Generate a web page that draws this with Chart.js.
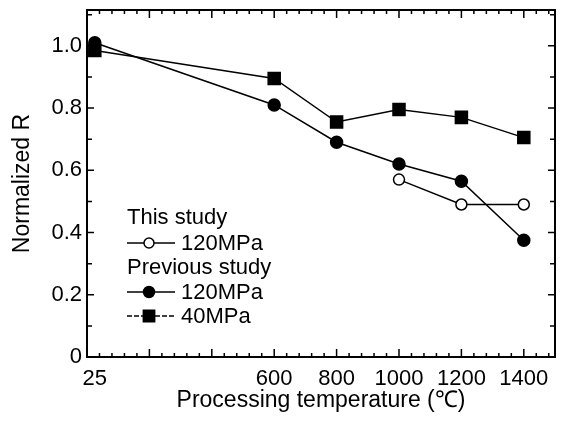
<!DOCTYPE html>
<html>
<head>
<meta charset="utf-8">
<script src="https://cdn.jsdelivr.net/npm/chart.js@4.4.0/dist/chart.umd.min.js"></script>
<style>
  html, body { margin: 0; padding: 0; background: #fff; }
</style>
</head>
<body>
<canvas id="chart" width="565" height="423"></canvas>
<script>
// ===== Data =====
const temps = [25, 600, 800, 1000, 1200, 1400];
const thisStudyTemps = [1000, 1200, 1400];
const thisStudy120 = [0.57, 0.49, 0.49];
const prev120 = [1.01, 0.81, 0.69, 0.62, 0.565, 0.375];
const prev40 = [0.985, 0.895, 0.755, 0.795, 0.77, 0.705];
const xTickLabels = [25, 600, 800, 1000, 1200, 1400];
const yTickLabels = [0, 0.2, 0.4, 0.6, 0.8, 1.0];

const FONT = "'Liberation Sans', Arial, sans-serif";

function pairs(xs, ys){ return xs.map((x,i)=>({x, y: ys[i]})); }

// ===== Frame with inward ticks =====
const framePlugin = {
  id: "frame",
  beforeDatasetsDraw(chart){
    const {ctx, chartArea: a, scales: {x, y}} = chart;
    ctx.save();
    ctx.strokeStyle = "#000";
    ctx.lineWidth = 1.5;
    ctx.beginPath();
    for(let v=40; v<1500; v+=40){
      const px = x.getPixelForValue(v);
      const len = v%200===0 ? 8 : 4;
      ctx.moveTo(px, a.bottom); ctx.lineTo(px, a.bottom-len);
      ctx.moveTo(px, a.top); ctx.lineTo(px, a.top+len);
    }
    for(let i=1; i<=11; i++){
      const py = y.getPixelForValue(i/10);
      const len = i%2===0 ? 7 : 5;
      ctx.moveTo(a.left, py); ctx.lineTo(a.left+len, py);
      ctx.moveTo(a.right, py); ctx.lineTo(a.right-len, py);
    }
    ctx.stroke();
    ctx.lineWidth = 2;
    ctx.strokeRect(a.left, a.top, a.right-a.left, a.bottom-a.top);
    ctx.restore();
  }
};

// ===== Legend inside the plot =====
const legendPlugin = {
  id: "innerLegend",
  afterDraw(chart){
    const ctx = chart.ctx;
    ctx.save();
    ctx.fillStyle = "#000";
    ctx.strokeStyle = "#000";
    ctx.font = "22px " + FONT;
    ctx.textBaseline = "middle";
    ctx.textAlign = "left";
    ctx.fillText("This study", 127, 218);
    ctx.fillText("Previous study", 127, 268);

    const rows = [
      {y: 243, label: "120MPa", style: "circle", fill: "#fff", r: 5, dash: []},
      {y: 292, label: "120MPa", style: "circle", fill: "#000", r: 5.5, dash: []},
      {y: 316, label: "40MPa", style: "rect", fill: "#000", r: 8, dash: [5, 2]}
    ];
    rows.forEach(row=>{
      ctx.lineWidth = 1.5;
      ctx.setLineDash(row.dash);
      ctx.beginPath();
      ctx.moveTo(127, row.y); ctx.lineTo(175, row.y);
      ctx.stroke();
      ctx.setLineDash([]);
      ctx.fillStyle = row.fill;
      Chart.helpers.drawPoint(ctx, {pointStyle: row.style, radius: row.r, borderWidth: 1.5}, 149, row.y);
      ctx.fillStyle = "#000";
      ctx.fillText(row.label, 181, row.y + 1);
    });
    ctx.restore();
  }
};

const common = {borderColor: "#000", borderWidth: 1.5, pointBorderColor: "#000", pointBorderWidth: 1.5, tension: 0, fill: false};

new Chart(document.getElementById("chart"), {
  type: "line",
  data: {
    datasets: [
      {...common, label: "This study 120MPa", data: pairs(thisStudyTemps, thisStudy120), pointStyle: "circle", pointRadius: 5.5, pointBackgroundColor: "#fff"},
      {...common, label: "Previous study 120MPa", data: pairs(temps, prev120), pointStyle: "circle", pointRadius: 6, pointBackgroundColor: "#000"},
      {...common, label: "Previous study 40MPa", data: pairs(temps, prev40), pointStyle: "rect", pointRadius: 8.5, pointBackgroundColor: "#000"}
    ]
  },
  options: {
    responsive: false,
    animation: false,
    layout: {padding: {top: 9, right: 7, left: 0, bottom: 0}},
    plugins: {legend: {display: false}, tooltip: {enabled: false}},
    scales: {
      x: {
        type: "linear", min: 0, max: 1500,
        grid: {display: false, drawTicks: false}, border: {display: false},
        afterBuildTicks: s => { s.ticks = xTickLabels.map(v=>({value: v})); },
        afterFit: s => { s.height = 66; s.paddingLeft = 0; s.paddingRight = 0; },
        ticks: {color: "#000", padding: 9, maxRotation: 0, autoSkip: false, font: {family: FONT, size: 22}, callback: v => String(v)},
        title: {display: true, text: "Processing temperature (℃)", color: "#000", font: {family: FONT, size: 23}, padding: {top: 0, bottom: 9}}
      },
      y: {
        min: 0, max: 1.115,
        grid: {display: false, drawTicks: false}, border: {display: false},
        afterBuildTicks: s => { s.ticks = yTickLabels.map(v=>({value: v})); },
        afterFit: s => { s.width = 87; s.paddingTop = 0; s.paddingBottom = 0; },
        ticks: {color: "#000", padding: 5, font: {family: FONT, size: 22}, callback: v => v===0 ? "0" : v.toFixed(1)},
        title: {display: true, text: "Normalized R", color: "#000", font: {family: FONT, size: 23}, padding: {top: 9, bottom: 0}}
      }
    }
  },
  plugins: [framePlugin, legendPlugin]
});
</script>
</body>
</html>
